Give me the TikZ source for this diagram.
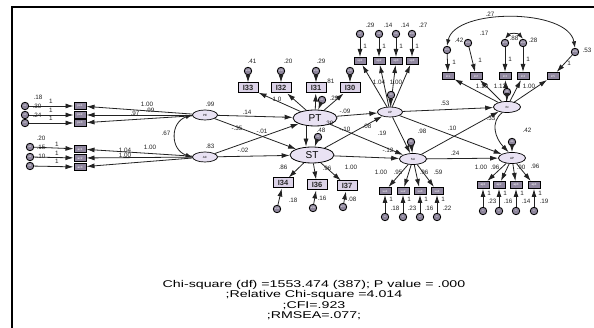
\documentclass[tikz,border=0pt]{standalone}
\usepackage{fontspec}
\setmainfont{Liberation Sans}
\usetikzlibrary{shapes.geometric,arrows.meta}

\definecolor{latfill}{HTML}{E9E2F3}
\definecolor{obsfill}{HTML}{8F869E}
\definecolor{obslight}{HTML}{DCD3E8}
\definecolor{errfill}{HTML}{8E869C}
\definecolor{inkgray}{HTML}{222222}

% value label: name, position, text
\newcommand\vlab[3]{\node[lab] (#1) at (#2) {#3};}

\tikzset{
  lat/.style={ellipse, draw=black, line width=0.7pt, fill=latfill, minimum width=25pt,
    minimum height=10pt, inner sep=0pt, font=\fontsize{3}{3}\selectfont},
  latbig/.style={lat, line width=0.8pt, minimum width=44pt, minimum height=16pt,
    font=\fontsize{10}{10}\selectfont},
  obs/.style={rectangle, draw=black, line width=1pt, fill=obsfill, minimum width=12pt,
    minimum height=7pt, inner sep=0pt, text=white, font=\fontsize{3}{3}\selectfont},
  obsbig/.style={obs, fill=obslight, minimum width=20pt, minimum height=10pt, text=black!85,
    font=\fontsize{7.5}{7.5}\selectfont\bfseries},
  err/.style={circle, draw=black, line width=0.8pt, fill=errfill, minimum size=7.5pt,
    inner sep=0pt, text=white, font=\fontsize{2.5}{2.5}\selectfont},
  pth/.style={-{Latex[length=8pt,width=5pt]}, line width=0.8pt, draw=inkgray},
  cov/.style={{Latex[length=6.5pt,width=4.5pt]}-{Latex[length=6.5pt,width=4.5pt]},
    line width=0.8pt, draw=inkgray},
  lab/.style={inner sep=0pt, text=inkgray, font=\fontsize{6.3}{6.3}\selectfont},
  fit/.style={inner sep=0pt, align=center, text=black, transform shape, xscale=1.45,
    font=\fontsize{9.8}{10.2}\selectfont},
}

\begin{document}
\begin{tikzpicture}[x=1pt,y=-1pt]
\useasboundingbox (0,0) rectangle (594,328);
\draw[line width=2.4pt] (12,328) -- (12,7) -- (594,7);

% ---------- latent variables ----------
\node[lat] (PE) at (205,115) {PE};
\node[lat] (AC) at (205,157) {AC};
\node[latbig] (PT) at (315,118) {PT};
\node[latbig] (ST) at (312,155) {ST};
\node[lat] (UP) at (390,112) {UP};
\node[lat, minimum width=27pt, minimum height=11pt] (IN) at (507,107) {IN};
\node[lat, minimum width=27pt, minimum height=11pt] (SU) at (413,159) {SU};
\node[lat, minimum width=27pt, minimum height=11pt] (AP) at (512,158) {AP};

% ---------- PE block ----------
\node[obs] (p1) at (80,106) {pe1};
\node[obs] (p2) at (80,115) {pe2};
\node[obs] (p3) at (80,123) {pe3};
\node[err] (ep1) at (25,106) {e1};
\node[err] (ep2) at (25,115) {e2};
\node[err] (ep3) at (25,123) {e3};
\foreach \i in {1,2,3} {
  \draw[pth] (ep\i) -- (p\i);
  \draw[pth] (PE) -- (p\i);
}
\vlab{v1}{38,97}{.18}\vlab{v2}{37,106}{.30}\vlab{v3}{37,115}{.24}
\vlab{o1}{51,101}{1}\vlab{o2}{51,110}{1}\vlab{o3}{51,118}{1}
\vlab{w1}{147,104}{1.00}\vlab{w2}{135,113}{.97}\vlab{w3}{150,110}{.99}
\vlab{vPE}{210,104}{.99}

% ---------- AC block ----------
\node[obs] (a1) at (80,149) {ac1};
\node[obs] (a2) at (80,158) {ac2};
\node[obs] (a3) at (80,167) {ac3};
\node[err] (ea1) at (30,147) {e4};
\node[err] (ea2) at (30,157) {e5};
\node[err] (ea3) at (30,166) {e6};
\foreach \i in {1,2,3} {
  \draw[pth] (ea\i) -- (a\i);
  \draw[pth] (AC) -- (a\i);
}
\vlab{v4}{41,138}{.20}\vlab{v5}{41,147}{.15}\vlab{v6}{41,156}{.10}
\vlab{o4}{57,144}{1}\vlab{o5}{57,153}{1}\vlab{o6}{57,161}{1}
\vlab{w4}{150,147}{1.00}\vlab{w5}{125,150}{1.04}\vlab{w6}{125,155}{1.00}
\vlab{vAC}{210,146}{.83}

\draw[cov] (PE.west) .. controls (170,122) and (170,150) .. (AC.west);
\vlab{c1}{166,133}{.67}

% ---------- PT block ----------
\node[obsbig] (t33) at (248,88) {I33};
\node[obsbig] (t32) at (281,88) {I32};
\node[obsbig] (t31) at (316,88) {I31};
\node[obsbig] (t30) at (350,88) {I30};
\node[err] (et33) at (248,71) {e33};
\node[err] (et32) at (281,71) {e32};
\node[err] (et31) at (316,71) {e31};
\node[err] (et30) at (350,71) {e30};
\foreach \i in {33,32,31,30} {
  \draw[pth] (et\i) -- (t\i);
  \draw[pth] (PT) -- (t\i);
}
\node[err] (rPT) at (322,100) {d1};
\draw[pth] (rPT) -- (PT);
\vlab{v33}{252,61}{.41}\vlab{v32}{288,61}{.20}\vlab{v31}{321,61}{.29}
\vlab{vPT}{330,81}{.81}
\vlab{w33}{277,99}{1.0}\vlab{w30}{334,98}{.29}
\vlab{rsPT}{329,123}{.39}

% ---------- ST block ----------
\node[obsbig] (s34) at (283,183) {I34};
\node[obsbig] (s36) at (317,185) {I36};
\node[obsbig] (s37) at (347,186) {I37};
\node[err] (es34) at (277,209) {e34};
\node[err] (es36) at (313,208) {e36};
\node[err] (es37) at (343,207) {e37};
\foreach \i in {34,36,37} {
  \draw[pth] (es\i) -- (s\i);
  \draw[pth] (ST) -- (s\i);
}
\node[err] (rST) at (318,137) {d2};
\draw[pth] (rST) -- (ST);
\vlab{w34}{283,167}{.86}\vlab{w36}{327,168}{.96}\vlab{w37}{351,167}{1.00}
\vlab{v34}{293,200}{.18}\vlab{v36}{322,198}{.16}\vlab{v37}{352,199}{.08}

% ---------- UP block ----------
\node[obs] (u1) at (360,61) {up1};
\node[obs] (u2) at (379,61) {up2};
\node[obs] (u3) at (396,61) {up3};
\node[obs] (u4) at (412,61) {up4};
\node[err] (eu1) at (360,34) {e7};
\node[err] (eu2) at (379,34) {e8};
\node[err] (eu3) at (396,34) {e9};
\node[err] (eu4) at (412,34) {e10};
\foreach \i in {1,2,3,4} {
  \draw[pth] (eu\i) -- (u\i);
  \draw[pth] (UP) -- (u\i);
}
\node[err] (rUP) at (391,95) {d3};
\draw[pth] (rUP) -- (UP);
\vlab{v7}{370,25}{.29}\vlab{v8}{388,25}{.14}\vlab{v9}{405,25}{.14}\vlab{v10}{423,25}{.27}
\vlab{o7}{365,46}{1}\vlab{o8}{384,46}{1}\vlab{o9}{401,46}{1}\vlab{o10}{417,46}{1}
\vlab{wu1}{379,82}{1.04}\vlab{wu2}{396,82}{1.00}

% ---------- IN block ----------
\node[obs] (n1) at (448,76) {in1};
\node[obs] (n2) at (476,76) {in2};
\node[obs] (n3) at (505,76) {in3};
\node[obs] (n4) at (523,76) {in4};
\node[obs] (n5) at (553,76) {in5};
\node[err] (en1) at (447,50) {e11};
\node[err] (en2) at (468,43) {e12};
\node[err] (en3) at (505,43) {e13};
\node[err] (en4) at (523,43) {e14};
\node[err] (en5) at (575,52) {e15};
\foreach \i in {1,...,5} {
  \draw[pth] (en\i) -- (n\i);
  \draw[pth] (IN) -- (n\i);
}
\node[err] (rIN) at (507,92) {d4};
\draw[pth] (rIN) -- (IN);
\draw[cov] (en3.north) .. controls (510,33) and (518,33) .. (en4.north);
\draw[cov] (en1.north) .. controls (455,8) and (568,8) .. (en5.north);
\vlab{v11}{459,40}{.42}\vlab{v12}{484,33}{.17}\vlab{v13}{514,38}{.88}\vlab{v14}{533,40}{.28}
\vlab{v15}{587,50}{.53}\vlab{c2}{490,14}{.27}
\vlab{o11}{454,62}{1}\vlab{o12}{480,60}{1}\vlab{o13}{510,59}{1}\vlab{o14}{528,59}{1}\vlab{o15}{569,63}{1}
\vlab{wn1}{482,86}{1.10}\vlab{wn2}{500,86}{1.12}\vlab{wn4}{529,86}{1.00}

% ---------- SU block ----------
\foreach \i/\x in {1/385,2/403,3/420,4/437} {
  \node[obs] (su\i) at (\x,191) {su\i};
  \node[err] (esu\i) at (\x,217) {e};
  \draw[pth] (esu\i) -- (su\i);
  \draw[pth] (SU) -- (su\i);
}
\node[err] (rSU) at (411,142) {d5};
\draw[pth] (rSU) -- (SU);
\vlab{ws1}{381,172}{1.00}\vlab{ws2}{398,172}{.95}\vlab{ws3}{424,172}{.96}\vlab{ws4}{438,172}{.59}
\vlab{vs1}{395,208}{.18}\vlab{vs2}{412,208}{.23}\vlab{vs3}{429,208}{.16}\vlab{vs4}{447,208}{.22}
\vlab{os1}{391,199}{1}\vlab{os2}{409,199}{1}\vlab{os3}{426,199}{1}\vlab{os4}{443,199}{1}

% ---------- AP block ----------
\foreach \i/\x in {1/483,2/499,3/516,4/534} {
  \node[obs] (ap\i) at (\x,185) {ap\i};
  \node[err] (eap\i) at (\x,211) {e};
  \draw[pth] (eap\i) -- (ap\i);
  \draw[pth] (AP) -- (ap\i);
}
\node[err] (rAP) at (512,142) {d6};
\draw[pth] (rAP) -- (AP);
\vlab{vAP}{527,130}{.42}
\vlab{wa1}{481,167}{1.00}\vlab{wa2}{495,167}{.96}\vlab{wa3}{521,167}{.90}\vlab{wa4}{535,166}{.96}
\vlab{va1}{492,201}{.23}\vlab{va2}{508,201}{.16}\vlab{va3}{526,201}{.14}\vlab{va4}{544,201}{.19}
\vlab{oa1}{489,193}{1}\vlab{oa2}{505,193}{1}\vlab{oa3}{522,193}{1}\vlab{oa4}{540,193}{1}

% ---------- structural paths ----------
\draw[pth] (PE) -- (PT);
\draw[pth] (PE) -- (ST);
\draw[pth] (AC) -- (PT);
\draw[pth] (AC) -- (ST);
\draw[pth] ([xshift=-9pt]PT.south) -- ([xshift=-6pt]ST.north);
\draw[pth] (PT) -- (UP);
\draw[pth] (PT) -- (SU);
\draw[pth] (ST) -- (UP);
\draw[pth] (ST) -- (SU);
\draw[pth] (UP) -- (SU);
\draw[pth] (UP) -- (AP);
\draw[pth] (UP) -- (IN);
\draw[pth] (SU) -- (IN);
\draw[pth] (SU) -- (AP);
\draw[pth] (IN.230) .. controls (490,122) and (495,138) .. (AP.120);

\vlab{b1}{247,112}{.14}\vlab{b2}{237,128}{-.35}\vlab{b3}{262,131}{-.01}\vlab{b4}{243,150}{-.02}
\vlab{b5}{321,130}{.48}
\vlab{b6}{345,111}{-.09}\vlab{b7}{345,129}{-.10}\vlab{b8}{367,126}{.08}\vlab{b9}{388,150}{-.12}
\vlab{b10}{382,133}{.19}\vlab{b11}{422,131}{.98}\vlab{b12}{445,103}{.53}\vlab{b13}{452,128}{.10}
\vlab{b14}{455,153}{.24}\vlab{b15}{491,118}{.33}

% ---------- fit statistics ----------
\node[fit] (fitstats) at (314,300) {Chi-square (df) =1553.474 (387); P value = .000\\
  ;Relative Chi-square =4.014\\ ;CFI=.923\\ ;RMSEA=.077;};
\end{tikzpicture}
\end{document}
